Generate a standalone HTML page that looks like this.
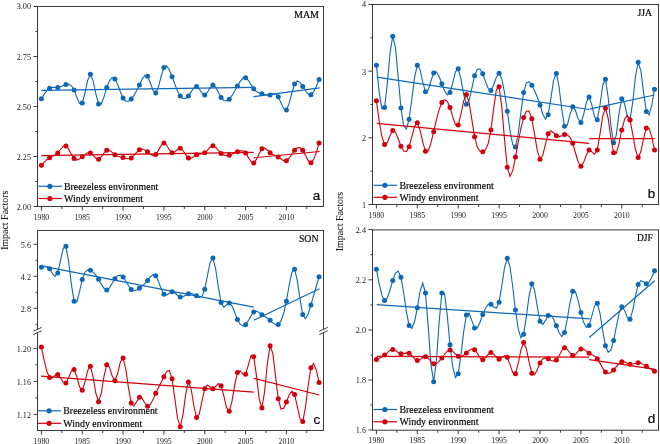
<!DOCTYPE html>
<html><head><meta charset="utf-8"><title>Impact Factors</title>
<style>html,body{margin:0;padding:0;background:#fff;}svg{display:block;will-change:transform;}</style>
</head><body><svg width="660" height="444" viewBox="0 0 660 444"><rect x="37.5" y="6.5" width="286.0" height="200.0" fill="none" stroke="#3a3a3a" stroke-width="1"/><line x1="33.5" y1="6.5" x2="37.5" y2="6.5" stroke="#3a3a3a" stroke-width="1"/><text x="31.0" y="8.9" font-family="'Liberation Serif', serif" font-size="8.2" text-anchor="end" fill="#1a1a1a">3.00</text><line x1="33.5" y1="56.5" x2="37.5" y2="56.5" stroke="#3a3a3a" stroke-width="1"/><text x="31.0" y="59.9" font-family="'Liberation Serif', serif" font-size="8.2" text-anchor="end" fill="#1a1a1a">2.75</text><line x1="33.5" y1="106.5" x2="37.5" y2="106.5" stroke="#3a3a3a" stroke-width="1"/><text x="31.0" y="109.9" font-family="'Liberation Serif', serif" font-size="8.2" text-anchor="end" fill="#1a1a1a">2.50</text><line x1="33.5" y1="156.5" x2="37.5" y2="156.5" stroke="#3a3a3a" stroke-width="1"/><text x="31.0" y="159.9" font-family="'Liberation Serif', serif" font-size="8.2" text-anchor="end" fill="#1a1a1a">2.25</text><line x1="33.5" y1="206.5" x2="37.5" y2="206.5" stroke="#3a3a3a" stroke-width="1"/><text x="31.0" y="209.9" font-family="'Liberation Serif', serif" font-size="8.2" text-anchor="end" fill="#1a1a1a">2.00</text><line x1="35.5" y1="31.5" x2="37.5" y2="31.5" stroke="#3a3a3a" stroke-width="1"/><line x1="35.5" y1="81.5" x2="37.5" y2="81.5" stroke="#3a3a3a" stroke-width="1"/><line x1="35.5" y1="131.5" x2="37.5" y2="131.5" stroke="#3a3a3a" stroke-width="1"/><line x1="35.5" y1="181.5" x2="37.5" y2="181.5" stroke="#3a3a3a" stroke-width="1"/><line x1="41.4" y1="206.5" x2="41.4" y2="210.5" stroke="#3a3a3a" stroke-width="1"/><text x="41.4" y="219.5" font-family="'Liberation Serif', serif" font-size="8.2" text-anchor="middle" fill="#1a1a1a" textLength="15.6" lengthAdjust="spacingAndGlyphs">1980</text><line x1="82.235" y1="206.5" x2="82.235" y2="210.5" stroke="#3a3a3a" stroke-width="1"/><text x="82.235" y="219.5" font-family="'Liberation Serif', serif" font-size="8.2" text-anchor="middle" fill="#1a1a1a" textLength="15.6" lengthAdjust="spacingAndGlyphs">1985</text><line x1="123.07" y1="206.5" x2="123.07" y2="210.5" stroke="#3a3a3a" stroke-width="1"/><text x="123.07" y="219.5" font-family="'Liberation Serif', serif" font-size="8.2" text-anchor="middle" fill="#1a1a1a" textLength="15.6" lengthAdjust="spacingAndGlyphs">1990</text><line x1="163.905" y1="206.5" x2="163.905" y2="210.5" stroke="#3a3a3a" stroke-width="1"/><text x="163.905" y="219.5" font-family="'Liberation Serif', serif" font-size="8.2" text-anchor="middle" fill="#1a1a1a" textLength="15.6" lengthAdjust="spacingAndGlyphs">1995</text><line x1="204.74" y1="206.5" x2="204.74" y2="210.5" stroke="#3a3a3a" stroke-width="1"/><text x="204.74" y="219.5" font-family="'Liberation Serif', serif" font-size="8.2" text-anchor="middle" fill="#1a1a1a" textLength="15.6" lengthAdjust="spacingAndGlyphs">2000</text><line x1="245.575" y1="206.5" x2="245.575" y2="210.5" stroke="#3a3a3a" stroke-width="1"/><text x="245.575" y="219.5" font-family="'Liberation Serif', serif" font-size="8.2" text-anchor="middle" fill="#1a1a1a" textLength="15.6" lengthAdjust="spacingAndGlyphs">2005</text><line x1="286.40999999999997" y1="206.5" x2="286.40999999999997" y2="210.5" stroke="#3a3a3a" stroke-width="1"/><text x="286.40999999999997" y="219.5" font-family="'Liberation Serif', serif" font-size="8.2" text-anchor="middle" fill="#1a1a1a" textLength="15.6" lengthAdjust="spacingAndGlyphs">2010</text><line x1="61.817499999999995" y1="206.5" x2="61.817499999999995" y2="209.0" stroke="#3a3a3a" stroke-width="1"/><line x1="102.6525" y1="206.5" x2="102.6525" y2="209.0" stroke="#3a3a3a" stroke-width="1"/><line x1="143.48749999999998" y1="206.5" x2="143.48749999999998" y2="209.0" stroke="#3a3a3a" stroke-width="1"/><line x1="184.3225" y1="206.5" x2="184.3225" y2="209.0" stroke="#3a3a3a" stroke-width="1"/><line x1="225.1575" y1="206.5" x2="225.1575" y2="209.0" stroke="#3a3a3a" stroke-width="1"/><line x1="265.9925" y1="206.5" x2="265.9925" y2="209.0" stroke="#3a3a3a" stroke-width="1"/><line x1="306.8275" y1="206.5" x2="306.8275" y2="209.0" stroke="#3a3a3a" stroke-width="1"/><path d="M41.40,98.80 44.12,94.42 46.84,90.68 49.57,88.20 52.29,87.35 55.01,87.44 57.73,87.50 60.46,86.82 63.18,85.68 65.90,84.60 68.62,84.20 71.35,85.57 74.07,89.90 76.79,97.29 79.51,103.45 82.23,103.00 84.96,93.01 87.68,80.32 90.40,74.20 93.12,80.81 95.85,93.86 98.57,103.90 101.29,103.96 104.01,96.80 106.74,87.60 109.46,80.79 112.18,77.71 114.90,78.90 117.63,84.35 120.35,91.73 123.07,98.10 125.79,101.18 128.51,101.20 131.24,99.00 133.96,95.34 136.68,90.58 139.40,85.00 142.13,79.25 144.85,75.50 147.57,76.30 150.29,82.77 153.02,90.33 155.74,93.00 158.46,86.85 161.18,76.24 163.91,67.60 166.63,65.85 169.35,69.79 172.07,76.70 174.79,84.16 177.52,90.89 180.24,95.90 182.96,98.39 185.68,98.36 188.41,96.00 191.13,91.87 193.85,87.95 196.57,86.60 199.30,89.17 202.02,93.12 204.74,94.90 207.46,92.21 210.18,87.67 212.91,85.10 215.63,87.23 218.35,92.32 221.07,97.50 223.80,100.44 226.52,100.91 229.24,99.20 231.96,95.68 234.69,91.03 237.41,86.00 240.13,81.40 242.85,78.27 245.57,77.70 248.30,80.28 251.02,84.62 253.74,88.85 256.46,91.52 259.19,92.91 261.91,93.75 264.63,94.56 267.35,95.12 270.08,95.00 272.80,94.16 275.52,94.10 278.24,96.70 280.97,102.75 283.69,108.69 286.41,109.90 289.13,103.41 291.85,93.00 294.58,84.10 297.30,80.89 300.02,82.40 302.74,86.40 305.47,90.79 308.19,94.02 310.91,94.70 313.63,91.87 316.36,86.39 319.08,79.60" fill="none" stroke="#0f68b4" stroke-width="1.1"/><circle cx="41.40" cy="98.80" r="2.5" fill="#0f68b4"/><circle cx="49.57" cy="88.20" r="2.5" fill="#0f68b4"/><circle cx="57.73" cy="87.50" r="2.5" fill="#0f68b4"/><circle cx="65.90" cy="84.60" r="2.5" fill="#0f68b4"/><circle cx="74.07" cy="89.90" r="2.5" fill="#0f68b4"/><circle cx="82.23" cy="103.00" r="2.5" fill="#0f68b4"/><circle cx="90.40" cy="74.20" r="2.5" fill="#0f68b4"/><circle cx="98.57" cy="103.90" r="2.5" fill="#0f68b4"/><circle cx="106.74" cy="87.60" r="2.5" fill="#0f68b4"/><circle cx="114.90" cy="78.90" r="2.5" fill="#0f68b4"/><circle cx="123.07" cy="98.10" r="2.5" fill="#0f68b4"/><circle cx="131.24" cy="99.00" r="2.5" fill="#0f68b4"/><circle cx="139.40" cy="85.00" r="2.5" fill="#0f68b4"/><circle cx="147.57" cy="76.30" r="2.5" fill="#0f68b4"/><circle cx="155.74" cy="93.00" r="2.5" fill="#0f68b4"/><circle cx="163.91" cy="67.60" r="2.5" fill="#0f68b4"/><circle cx="172.07" cy="76.70" r="2.5" fill="#0f68b4"/><circle cx="180.24" cy="95.90" r="2.5" fill="#0f68b4"/><circle cx="188.41" cy="96.00" r="2.5" fill="#0f68b4"/><circle cx="196.57" cy="86.60" r="2.5" fill="#0f68b4"/><circle cx="204.74" cy="94.90" r="2.5" fill="#0f68b4"/><circle cx="212.91" cy="85.10" r="2.5" fill="#0f68b4"/><circle cx="221.07" cy="97.50" r="2.5" fill="#0f68b4"/><circle cx="229.24" cy="99.20" r="2.5" fill="#0f68b4"/><circle cx="237.41" cy="86.00" r="2.5" fill="#0f68b4"/><circle cx="245.57" cy="77.70" r="2.5" fill="#0f68b4"/><circle cx="253.74" cy="88.85" r="2.5" fill="#0f68b4"/><circle cx="261.91" cy="93.75" r="2.5" fill="#0f68b4"/><circle cx="270.08" cy="95.00" r="2.5" fill="#0f68b4"/><circle cx="278.24" cy="96.70" r="2.5" fill="#0f68b4"/><circle cx="286.41" cy="109.90" r="2.5" fill="#0f68b4"/><circle cx="294.58" cy="84.10" r="2.5" fill="#0f68b4"/><circle cx="302.74" cy="86.40" r="2.5" fill="#0f68b4"/><circle cx="310.91" cy="94.70" r="2.5" fill="#0f68b4"/><circle cx="319.08" cy="79.60" r="2.5" fill="#0f68b4"/><path d="M41.40,165.30 44.12,162.37 46.84,159.73 49.57,157.70 52.29,156.37 55.01,155.07 57.73,152.90 60.46,149.49 63.18,146.45 65.90,145.90 68.62,149.14 71.35,154.28 74.07,158.60 76.79,160.03 79.51,159.06 82.23,156.80 84.96,154.36 87.68,152.73 90.40,152.90 93.12,155.30 95.85,158.17 98.57,159.20 101.29,156.89 104.01,153.03 106.74,150.20 109.46,150.30 112.18,152.38 114.90,154.80 117.63,156.28 120.35,157.02 123.07,157.60 125.79,158.36 128.51,158.73 131.24,157.90 133.96,155.42 136.68,152.27 139.40,149.80 142.13,149.06 144.85,149.88 147.57,151.80 150.29,154.17 153.02,155.62 155.74,154.60 158.46,150.38 161.18,145.42 163.91,143.00 166.63,145.25 169.35,149.72 172.07,152.80 174.79,152.02 177.52,149.42 180.24,148.20 182.96,150.54 185.68,154.69 188.41,157.90 191.13,158.19 193.85,156.57 196.57,154.80 199.30,154.16 202.02,153.90 204.74,152.80 207.46,150.12 210.18,147.18 212.91,145.80 215.63,147.21 218.35,150.30 221.07,153.40 223.80,155.15 226.52,155.62 229.24,155.20 231.96,154.27 234.69,153.06 237.41,151.80 240.13,150.81 242.85,150.91 245.57,153.00 248.30,157.37 251.02,161.69 253.74,163.00 256.46,159.43 259.19,153.49 261.91,148.80 264.63,148.03 267.35,150.03 270.08,152.70 272.80,154.42 275.52,155.55 278.24,156.90 280.97,158.95 283.69,160.67 286.41,160.70 289.13,158.15 291.85,154.11 294.58,150.20 297.30,147.83 300.02,147.66 302.74,150.20 305.47,155.33 308.19,160.53 310.91,162.70 313.63,159.58 316.36,152.37 319.08,143.10" fill="none" stroke="#d2000c" stroke-width="1.1"/><circle cx="41.40" cy="165.30" r="2.5" fill="#d2000c"/><circle cx="49.57" cy="157.70" r="2.5" fill="#d2000c"/><circle cx="57.73" cy="152.90" r="2.5" fill="#d2000c"/><circle cx="65.90" cy="145.90" r="2.5" fill="#d2000c"/><circle cx="74.07" cy="158.60" r="2.5" fill="#d2000c"/><circle cx="82.23" cy="156.80" r="2.5" fill="#d2000c"/><circle cx="90.40" cy="152.90" r="2.5" fill="#d2000c"/><circle cx="98.57" cy="159.20" r="2.5" fill="#d2000c"/><circle cx="106.74" cy="150.20" r="2.5" fill="#d2000c"/><circle cx="114.90" cy="154.80" r="2.5" fill="#d2000c"/><circle cx="123.07" cy="157.60" r="2.5" fill="#d2000c"/><circle cx="131.24" cy="157.90" r="2.5" fill="#d2000c"/><circle cx="139.40" cy="149.80" r="2.5" fill="#d2000c"/><circle cx="147.57" cy="151.80" r="2.5" fill="#d2000c"/><circle cx="155.74" cy="154.60" r="2.5" fill="#d2000c"/><circle cx="163.91" cy="143.00" r="2.5" fill="#d2000c"/><circle cx="172.07" cy="152.80" r="2.5" fill="#d2000c"/><circle cx="180.24" cy="148.20" r="2.5" fill="#d2000c"/><circle cx="188.41" cy="157.90" r="2.5" fill="#d2000c"/><circle cx="196.57" cy="154.80" r="2.5" fill="#d2000c"/><circle cx="204.74" cy="152.80" r="2.5" fill="#d2000c"/><circle cx="212.91" cy="145.80" r="2.5" fill="#d2000c"/><circle cx="221.07" cy="153.40" r="2.5" fill="#d2000c"/><circle cx="229.24" cy="155.20" r="2.5" fill="#d2000c"/><circle cx="237.41" cy="151.80" r="2.5" fill="#d2000c"/><circle cx="245.57" cy="153.00" r="2.5" fill="#d2000c"/><circle cx="253.74" cy="163.00" r="2.5" fill="#d2000c"/><circle cx="261.91" cy="148.80" r="2.5" fill="#d2000c"/><circle cx="270.08" cy="152.70" r="2.5" fill="#d2000c"/><circle cx="278.24" cy="156.90" r="2.5" fill="#d2000c"/><circle cx="286.41" cy="160.70" r="2.5" fill="#d2000c"/><circle cx="294.58" cy="150.20" r="2.5" fill="#d2000c"/><circle cx="302.74" cy="150.20" r="2.5" fill="#d2000c"/><circle cx="310.91" cy="162.70" r="2.5" fill="#d2000c"/><circle cx="319.08" cy="143.10" r="2.5" fill="#d2000c"/><line x1="41.4" y1="90.3" x2="253.7" y2="87.4" stroke="#0f68b4" stroke-width="1.2"/><line x1="253.5" y1="96.7" x2="319.6" y2="87.9" stroke="#0f68b4" stroke-width="1.2"/><line x1="41.4" y1="155.6" x2="253.7" y2="152.4" stroke="#d2000c" stroke-width="1.2"/><line x1="253.7" y1="157.8" x2="319.7" y2="151.5" stroke="#d2000c" stroke-width="1.2"/><line x1="38.5" y1="186.3" x2="62.0" y2="186.3" stroke="#0f68b4" stroke-width="1.2"/><circle cx="49.9" cy="186.3" r="2.6" fill="#0f68b4"/><line x1="38.5" y1="198.5" x2="62.0" y2="198.5" stroke="#d2000c" stroke-width="1.2"/><circle cx="49.9" cy="198.5" r="2.6" fill="#d2000c"/><text x="64" y="189.9" font-family="'Liberation Serif', serif" font-size="10" text-anchor="start" fill="#000" stroke="#000" stroke-width="0.18" textLength="94.3" lengthAdjust="spacingAndGlyphs">Breezeless environment</text><text x="64" y="202.1" font-family="'Liberation Serif', serif" font-size="10" text-anchor="start" fill="#000" stroke="#000" stroke-width="0.18" textLength="79" lengthAdjust="spacingAndGlyphs">Windy environment</text><text x="319" y="17.5" font-family="'Liberation Serif', serif" font-size="10" text-anchor="end" fill="#000" stroke="#000" stroke-width="0.18" textLength="25" lengthAdjust="spacingAndGlyphs">MAM</text><text x="316.5" y="200" font-family="'Liberation Sans', sans-serif" font-size="13.5" text-anchor="middle" fill="#000" stroke="#000" stroke-width="0.18">a</text><rect x="372.5" y="4.5" width="286.0" height="200.0" fill="none" stroke="#3a3a3a" stroke-width="1"/><line x1="368.5" y1="4.5" x2="372.5" y2="4.5" stroke="#3a3a3a" stroke-width="1"/><text x="366" y="6.9" font-family="'Liberation Serif', serif" font-size="8.2" text-anchor="end" fill="#1a1a1a">4</text><line x1="368.5" y1="71.2" x2="372.5" y2="71.2" stroke="#3a3a3a" stroke-width="1"/><text x="366" y="74.60000000000001" font-family="'Liberation Serif', serif" font-size="8.2" text-anchor="end" fill="#1a1a1a">3</text><line x1="368.5" y1="137.8" x2="372.5" y2="137.8" stroke="#3a3a3a" stroke-width="1"/><text x="366" y="141.20000000000002" font-family="'Liberation Serif', serif" font-size="8.2" text-anchor="end" fill="#1a1a1a">2</text><line x1="368.5" y1="204.5" x2="372.5" y2="204.5" stroke="#3a3a3a" stroke-width="1"/><text x="366" y="207.9" font-family="'Liberation Serif', serif" font-size="8.2" text-anchor="end" fill="#1a1a1a">1</text><line x1="370.5" y1="37.8" x2="372.5" y2="37.8" stroke="#3a3a3a" stroke-width="1"/><line x1="370.5" y1="104.5" x2="372.5" y2="104.5" stroke="#3a3a3a" stroke-width="1"/><line x1="370.5" y1="171.2" x2="372.5" y2="171.2" stroke="#3a3a3a" stroke-width="1"/><line x1="376.4" y1="204.5" x2="376.4" y2="208.5" stroke="#3a3a3a" stroke-width="1"/><text x="376.4" y="217.5" font-family="'Liberation Serif', serif" font-size="8.2" text-anchor="middle" fill="#1a1a1a" textLength="15.6" lengthAdjust="spacingAndGlyphs">1980</text><line x1="417.29999999999995" y1="204.5" x2="417.29999999999995" y2="208.5" stroke="#3a3a3a" stroke-width="1"/><text x="417.29999999999995" y="217.5" font-family="'Liberation Serif', serif" font-size="8.2" text-anchor="middle" fill="#1a1a1a" textLength="15.6" lengthAdjust="spacingAndGlyphs">1985</text><line x1="458.2" y1="204.5" x2="458.2" y2="208.5" stroke="#3a3a3a" stroke-width="1"/><text x="458.2" y="217.5" font-family="'Liberation Serif', serif" font-size="8.2" text-anchor="middle" fill="#1a1a1a" textLength="15.6" lengthAdjust="spacingAndGlyphs">1990</text><line x1="499.09999999999997" y1="204.5" x2="499.09999999999997" y2="208.5" stroke="#3a3a3a" stroke-width="1"/><text x="499.09999999999997" y="217.5" font-family="'Liberation Serif', serif" font-size="8.2" text-anchor="middle" fill="#1a1a1a" textLength="15.6" lengthAdjust="spacingAndGlyphs">1995</text><line x1="540.0" y1="204.5" x2="540.0" y2="208.5" stroke="#3a3a3a" stroke-width="1"/><text x="540.0" y="217.5" font-family="'Liberation Serif', serif" font-size="8.2" text-anchor="middle" fill="#1a1a1a" textLength="15.6" lengthAdjust="spacingAndGlyphs">2000</text><line x1="580.9" y1="204.5" x2="580.9" y2="208.5" stroke="#3a3a3a" stroke-width="1"/><text x="580.9" y="217.5" font-family="'Liberation Serif', serif" font-size="8.2" text-anchor="middle" fill="#1a1a1a" textLength="15.6" lengthAdjust="spacingAndGlyphs">2005</text><line x1="621.8" y1="204.5" x2="621.8" y2="208.5" stroke="#3a3a3a" stroke-width="1"/><text x="621.8" y="217.5" font-family="'Liberation Serif', serif" font-size="8.2" text-anchor="middle" fill="#1a1a1a" textLength="15.6" lengthAdjust="spacingAndGlyphs">2010</text><line x1="396.84999999999997" y1="204.5" x2="396.84999999999997" y2="207.0" stroke="#3a3a3a" stroke-width="1"/><line x1="437.75" y1="204.5" x2="437.75" y2="207.0" stroke="#3a3a3a" stroke-width="1"/><line x1="478.65" y1="204.5" x2="478.65" y2="207.0" stroke="#3a3a3a" stroke-width="1"/><line x1="519.55" y1="204.5" x2="519.55" y2="207.0" stroke="#3a3a3a" stroke-width="1"/><line x1="560.4499999999999" y1="204.5" x2="560.4499999999999" y2="207.0" stroke="#3a3a3a" stroke-width="1"/><line x1="601.3499999999999" y1="204.5" x2="601.3499999999999" y2="207.0" stroke="#3a3a3a" stroke-width="1"/><line x1="642.25" y1="204.5" x2="642.25" y2="207.0" stroke="#3a3a3a" stroke-width="1"/><path d="M376.40,65.30 379.13,91.63 381.85,108.76 384.58,107.50 387.31,83.64 390.03,52.95 392.76,36.20 395.49,47.88 398.21,77.42 400.94,108.00 403.67,125.80 406.39,129.10 409.12,119.20 411.85,98.95 414.57,77.43 417.30,65.30 420.03,69.50 422.75,82.15 425.48,91.70 428.21,89.79 430.93,80.97 433.66,73.00 436.39,71.87 439.11,76.45 441.84,83.80 444.57,90.98 447.29,94.92 450.02,92.50 452.75,82.58 455.47,71.81 458.20,68.80 460.93,78.90 463.65,94.37 466.38,104.20 469.11,100.58 471.83,88.41 474.56,75.80 477.29,69.26 480.01,69.01 482.74,73.70 485.47,81.47 488.19,88.50 490.92,90.50 493.65,85.00 496.37,76.99 499.10,73.30 501.83,79.08 504.55,92.79 507.28,111.20 510.01,130.53 512.73,144.68 515.46,147.00 518.19,133.65 520.91,112.07 523.64,92.50 526.37,82.86 529.09,81.72 531.82,85.30 534.55,90.50 537.27,96.96 540.00,105.00 542.73,113.93 545.45,119.07 548.18,114.70 550.91,98.32 553.63,80.12 556.36,73.50 559.09,86.99 561.81,109.78 564.54,126.20 567.27,125.26 569.99,114.66 572.72,106.80 575.45,110.31 578.17,118.89 580.90,122.50 583.63,114.58 586.35,102.48 589.08,97.00 591.81,104.94 594.53,116.96 597.26,119.70 599.99,104.99 602.71,85.52 605.44,79.20 608.17,97.42 610.89,125.64 613.62,142.80 616.35,134.57 619.07,113.46 621.80,98.70 624.53,103.41 627.25,116.23 629.98,119.70 632.71,102.39 635.43,76.98 638.16,62.20 640.89,70.94 643.61,92.81 646.34,111.60 649.07,114.86 651.79,105.25 654.52,89.20" fill="none" stroke="#0f68b4" stroke-width="1.1"/><circle cx="376.40" cy="65.30" r="2.5" fill="#0f68b4"/><circle cx="384.58" cy="107.50" r="2.5" fill="#0f68b4"/><circle cx="392.76" cy="36.20" r="2.5" fill="#0f68b4"/><circle cx="400.94" cy="108.00" r="2.5" fill="#0f68b4"/><circle cx="409.12" cy="119.20" r="2.5" fill="#0f68b4"/><circle cx="417.30" cy="65.30" r="2.5" fill="#0f68b4"/><circle cx="425.48" cy="91.70" r="2.5" fill="#0f68b4"/><circle cx="433.66" cy="73.00" r="2.5" fill="#0f68b4"/><circle cx="441.84" cy="83.80" r="2.5" fill="#0f68b4"/><circle cx="450.02" cy="92.50" r="2.5" fill="#0f68b4"/><circle cx="458.20" cy="68.80" r="2.5" fill="#0f68b4"/><circle cx="466.38" cy="104.20" r="2.5" fill="#0f68b4"/><circle cx="474.56" cy="75.80" r="2.5" fill="#0f68b4"/><circle cx="482.74" cy="73.70" r="2.5" fill="#0f68b4"/><circle cx="490.92" cy="90.50" r="2.5" fill="#0f68b4"/><circle cx="499.10" cy="73.30" r="2.5" fill="#0f68b4"/><circle cx="507.28" cy="111.20" r="2.5" fill="#0f68b4"/><circle cx="515.46" cy="147.00" r="2.5" fill="#0f68b4"/><circle cx="523.64" cy="92.50" r="2.5" fill="#0f68b4"/><circle cx="531.82" cy="85.30" r="2.5" fill="#0f68b4"/><circle cx="540.00" cy="105.00" r="2.5" fill="#0f68b4"/><circle cx="548.18" cy="114.70" r="2.5" fill="#0f68b4"/><circle cx="556.36" cy="73.50" r="2.5" fill="#0f68b4"/><circle cx="564.54" cy="126.20" r="2.5" fill="#0f68b4"/><circle cx="572.72" cy="106.80" r="2.5" fill="#0f68b4"/><circle cx="580.90" cy="122.50" r="2.5" fill="#0f68b4"/><circle cx="589.08" cy="97.00" r="2.5" fill="#0f68b4"/><circle cx="597.26" cy="119.70" r="2.5" fill="#0f68b4"/><circle cx="605.44" cy="79.20" r="2.5" fill="#0f68b4"/><circle cx="613.62" cy="142.80" r="2.5" fill="#0f68b4"/><circle cx="621.80" cy="98.70" r="2.5" fill="#0f68b4"/><circle cx="629.98" cy="119.70" r="2.5" fill="#0f68b4"/><circle cx="638.16" cy="62.20" r="2.5" fill="#0f68b4"/><circle cx="646.34" cy="111.60" r="2.5" fill="#0f68b4"/><circle cx="654.52" cy="89.20" r="2.5" fill="#0f68b4"/><path d="M376.40,100.80 379.13,120.60 381.85,136.48 384.58,144.50 387.31,142.53 390.03,135.59 392.76,130.50 395.49,132.28 398.21,138.81 400.94,146.20 403.67,150.99 406.39,151.56 409.12,146.70 411.85,136.54 414.57,126.37 417.30,122.80 420.03,129.96 422.75,142.15 425.48,151.20 428.21,150.95 430.93,143.19 433.66,131.70 436.39,119.89 439.11,109.65 441.84,102.50 444.57,99.69 447.29,101.39 450.02,107.50 452.75,116.94 455.47,124.75 458.20,125.00 460.93,114.49 463.65,100.86 466.38,94.50 469.11,102.59 471.83,119.57 474.56,136.70 477.29,147.08 480.01,151.27 482.74,151.70 485.47,149.87 488.19,143.64 490.92,130.00 493.65,108.58 496.37,89.79 499.10,86.70 501.83,107.39 504.55,139.88 507.28,167.20 510.01,176.38 512.73,170.61 515.46,157.10 518.19,142.14 520.91,128.37 523.64,117.50 526.37,111.23 529.09,111.15 531.82,118.80 534.55,134.09 537.27,150.36 540.00,159.30 542.73,155.36 545.45,144.09 548.18,133.80 550.91,130.72 553.63,132.77 556.36,135.80 559.09,136.59 561.81,135.70 564.54,134.60 567.27,134.73 569.99,137.23 572.72,143.20 575.45,152.74 578.17,162.01 580.90,166.20 583.63,162.34 586.35,154.86 589.08,150.00 591.81,151.67 594.53,154.32 597.26,150.00 599.99,134.20 602.71,116.03 605.44,108.00 608.17,118.29 610.89,137.73 613.62,152.80 616.35,153.45 619.07,143.44 621.80,130.00 624.53,119.55 627.25,115.39 629.98,120.00 632.71,133.88 635.43,149.55 638.16,157.50 640.89,151.50 643.61,138.32 646.34,128.00 649.07,128.18 651.79,136.94 654.52,150.00" fill="none" stroke="#d2000c" stroke-width="1.1"/><circle cx="376.40" cy="100.80" r="2.5" fill="#d2000c"/><circle cx="384.58" cy="144.50" r="2.5" fill="#d2000c"/><circle cx="392.76" cy="130.50" r="2.5" fill="#d2000c"/><circle cx="400.94" cy="146.20" r="2.5" fill="#d2000c"/><circle cx="409.12" cy="146.70" r="2.5" fill="#d2000c"/><circle cx="417.30" cy="122.80" r="2.5" fill="#d2000c"/><circle cx="425.48" cy="151.20" r="2.5" fill="#d2000c"/><circle cx="433.66" cy="131.70" r="2.5" fill="#d2000c"/><circle cx="441.84" cy="102.50" r="2.5" fill="#d2000c"/><circle cx="450.02" cy="107.50" r="2.5" fill="#d2000c"/><circle cx="458.20" cy="125.00" r="2.5" fill="#d2000c"/><circle cx="466.38" cy="94.50" r="2.5" fill="#d2000c"/><circle cx="474.56" cy="136.70" r="2.5" fill="#d2000c"/><circle cx="482.74" cy="151.70" r="2.5" fill="#d2000c"/><circle cx="490.92" cy="130.00" r="2.5" fill="#d2000c"/><circle cx="499.10" cy="86.70" r="2.5" fill="#d2000c"/><circle cx="507.28" cy="167.20" r="2.5" fill="#d2000c"/><circle cx="515.46" cy="157.10" r="2.5" fill="#d2000c"/><circle cx="523.64" cy="117.50" r="2.5" fill="#d2000c"/><circle cx="531.82" cy="118.80" r="2.5" fill="#d2000c"/><circle cx="540.00" cy="159.30" r="2.5" fill="#d2000c"/><circle cx="548.18" cy="133.80" r="2.5" fill="#d2000c"/><circle cx="556.36" cy="135.80" r="2.5" fill="#d2000c"/><circle cx="564.54" cy="134.60" r="2.5" fill="#d2000c"/><circle cx="572.72" cy="143.20" r="2.5" fill="#d2000c"/><circle cx="580.90" cy="166.20" r="2.5" fill="#d2000c"/><circle cx="589.08" cy="150.00" r="2.5" fill="#d2000c"/><circle cx="597.26" cy="150.00" r="2.5" fill="#d2000c"/><circle cx="605.44" cy="108.00" r="2.5" fill="#d2000c"/><circle cx="613.62" cy="152.80" r="2.5" fill="#d2000c"/><circle cx="621.80" cy="130.00" r="2.5" fill="#d2000c"/><circle cx="629.98" cy="120.00" r="2.5" fill="#d2000c"/><circle cx="638.16" cy="157.50" r="2.5" fill="#d2000c"/><circle cx="646.34" cy="128.00" r="2.5" fill="#d2000c"/><circle cx="654.52" cy="150.00" r="2.5" fill="#d2000c"/><line x1="376.7" y1="77.2" x2="589" y2="109.5" stroke="#0f68b4" stroke-width="1.2"/><line x1="589.5" y1="109.2" x2="654.5" y2="95" stroke="#0f68b4" stroke-width="1.2"/><line x1="376.7" y1="123.3" x2="589.2" y2="143.3" stroke="#d2000c" stroke-width="1.2"/><line x1="589.2" y1="138.7" x2="654.7" y2="138.7" stroke="#d2000c" stroke-width="1.2"/><line x1="373.5" y1="185.3" x2="397.0" y2="185.3" stroke="#0f68b4" stroke-width="1.2"/><circle cx="384.9" cy="185.3" r="2.6" fill="#0f68b4"/><line x1="373.5" y1="197.3" x2="397.0" y2="197.3" stroke="#d2000c" stroke-width="1.2"/><circle cx="384.9" cy="197.3" r="2.6" fill="#d2000c"/><text x="399.5" y="188.9" font-family="'Liberation Serif', serif" font-size="10" text-anchor="start" fill="#000" stroke="#000" stroke-width="0.18" textLength="94.3" lengthAdjust="spacingAndGlyphs">Breezeless environment</text><text x="399.5" y="200.9" font-family="'Liberation Serif', serif" font-size="10" text-anchor="start" fill="#000" stroke="#000" stroke-width="0.18" textLength="79" lengthAdjust="spacingAndGlyphs">Windy environment</text><text x="652" y="15.5" font-family="'Liberation Serif', serif" font-size="10" text-anchor="end" fill="#000" stroke="#000" stroke-width="0.18" textLength="14.5" lengthAdjust="spacingAndGlyphs">JJA</text><text x="651.5" y="197.7" font-family="'Liberation Sans', sans-serif" font-size="13.3" text-anchor="middle" fill="#000" stroke="#000" stroke-width="0.18">b</text><rect x="37.5" y="230.5" width="286.0" height="200.0" fill="none" stroke="#3a3a3a" stroke-width="1"/><line x1="33.5" y1="244.3" x2="37.5" y2="244.3" stroke="#3a3a3a" stroke-width="1"/><text x="31.0" y="247.70000000000002" font-family="'Liberation Serif', serif" font-size="8.2" text-anchor="end" fill="#1a1a1a">5.6</text><line x1="33.5" y1="276.3" x2="37.5" y2="276.3" stroke="#3a3a3a" stroke-width="1"/><text x="31.0" y="279.7" font-family="'Liberation Serif', serif" font-size="8.2" text-anchor="end" fill="#1a1a1a">4.2</text><line x1="33.5" y1="308.3" x2="37.5" y2="308.3" stroke="#3a3a3a" stroke-width="1"/><text x="31.0" y="311.7" font-family="'Liberation Serif', serif" font-size="8.2" text-anchor="end" fill="#1a1a1a">2.8</text><line x1="33.5" y1="348.4" x2="37.5" y2="348.4" stroke="#3a3a3a" stroke-width="1"/><text x="31.0" y="351.79999999999995" font-family="'Liberation Serif', serif" font-size="8.2" text-anchor="end" fill="#1a1a1a">1.20</text><line x1="33.5" y1="381.4" x2="37.5" y2="381.4" stroke="#3a3a3a" stroke-width="1"/><text x="31.0" y="384.79999999999995" font-family="'Liberation Serif', serif" font-size="8.2" text-anchor="end" fill="#1a1a1a">1.16</text><line x1="33.5" y1="414.4" x2="37.5" y2="414.4" stroke="#3a3a3a" stroke-width="1"/><text x="31.0" y="417.79999999999995" font-family="'Liberation Serif', serif" font-size="8.2" text-anchor="end" fill="#1a1a1a">1.12</text><line x1="35.5" y1="260.3" x2="37.5" y2="260.3" stroke="#3a3a3a" stroke-width="1"/><line x1="35.5" y1="292.3" x2="37.5" y2="292.3" stroke="#3a3a3a" stroke-width="1"/><line x1="35.5" y1="324.3" x2="37.5" y2="324.3" stroke="#3a3a3a" stroke-width="1"/><line x1="35.5" y1="364.9" x2="37.5" y2="364.9" stroke="#3a3a3a" stroke-width="1"/><line x1="35.5" y1="397.9" x2="37.5" y2="397.9" stroke="#3a3a3a" stroke-width="1"/><line x1="41.4" y1="430.5" x2="41.4" y2="434.5" stroke="#3a3a3a" stroke-width="1"/><text x="41.4" y="443.5" font-family="'Liberation Serif', serif" font-size="8.2" text-anchor="middle" fill="#1a1a1a" textLength="15.6" lengthAdjust="spacingAndGlyphs">1980</text><line x1="82.235" y1="430.5" x2="82.235" y2="434.5" stroke="#3a3a3a" stroke-width="1"/><text x="82.235" y="443.5" font-family="'Liberation Serif', serif" font-size="8.2" text-anchor="middle" fill="#1a1a1a" textLength="15.6" lengthAdjust="spacingAndGlyphs">1985</text><line x1="123.07" y1="430.5" x2="123.07" y2="434.5" stroke="#3a3a3a" stroke-width="1"/><text x="123.07" y="443.5" font-family="'Liberation Serif', serif" font-size="8.2" text-anchor="middle" fill="#1a1a1a" textLength="15.6" lengthAdjust="spacingAndGlyphs">1990</text><line x1="163.905" y1="430.5" x2="163.905" y2="434.5" stroke="#3a3a3a" stroke-width="1"/><text x="163.905" y="443.5" font-family="'Liberation Serif', serif" font-size="8.2" text-anchor="middle" fill="#1a1a1a" textLength="15.6" lengthAdjust="spacingAndGlyphs">1995</text><line x1="204.74" y1="430.5" x2="204.74" y2="434.5" stroke="#3a3a3a" stroke-width="1"/><text x="204.74" y="443.5" font-family="'Liberation Serif', serif" font-size="8.2" text-anchor="middle" fill="#1a1a1a" textLength="15.6" lengthAdjust="spacingAndGlyphs">2000</text><line x1="245.575" y1="430.5" x2="245.575" y2="434.5" stroke="#3a3a3a" stroke-width="1"/><text x="245.575" y="443.5" font-family="'Liberation Serif', serif" font-size="8.2" text-anchor="middle" fill="#1a1a1a" textLength="15.6" lengthAdjust="spacingAndGlyphs">2005</text><line x1="286.40999999999997" y1="430.5" x2="286.40999999999997" y2="434.5" stroke="#3a3a3a" stroke-width="1"/><text x="286.40999999999997" y="443.5" font-family="'Liberation Serif', serif" font-size="8.2" text-anchor="middle" fill="#1a1a1a" textLength="15.6" lengthAdjust="spacingAndGlyphs">2010</text><line x1="61.817499999999995" y1="430.5" x2="61.817499999999995" y2="433.0" stroke="#3a3a3a" stroke-width="1"/><line x1="102.6525" y1="430.5" x2="102.6525" y2="433.0" stroke="#3a3a3a" stroke-width="1"/><line x1="143.48749999999998" y1="430.5" x2="143.48749999999998" y2="433.0" stroke="#3a3a3a" stroke-width="1"/><line x1="184.3225" y1="430.5" x2="184.3225" y2="433.0" stroke="#3a3a3a" stroke-width="1"/><line x1="225.1575" y1="430.5" x2="225.1575" y2="433.0" stroke="#3a3a3a" stroke-width="1"/><line x1="265.9925" y1="430.5" x2="265.9925" y2="433.0" stroke="#3a3a3a" stroke-width="1"/><line x1="306.8275" y1="430.5" x2="306.8275" y2="433.0" stroke="#3a3a3a" stroke-width="1"/><path d="M41.40,267.20 44.12,266.28 46.84,266.46 49.57,268.80 52.29,273.42 55.01,276.43 57.73,273.00 60.46,260.88 63.18,248.35 65.90,246.30 68.62,261.53 71.35,284.40 74.07,301.20 76.79,301.96 79.51,291.77 82.23,279.50 84.96,272.21 87.68,269.78 90.40,270.30 93.12,272.17 95.85,275.12 98.57,279.20 101.29,284.14 104.01,288.37 106.74,290.00 109.46,287.81 112.18,283.31 114.90,278.70 117.63,275.83 120.35,275.21 123.07,277.00 125.79,281.03 128.51,285.81 131.24,289.50 133.96,290.74 136.68,290.00 139.40,288.20 142.13,286.08 144.85,283.59 147.57,280.50 150.29,276.96 153.02,274.69 155.74,275.80 158.46,281.42 161.18,288.80 163.91,294.20 166.63,295.03 169.35,293.19 172.07,291.70 174.79,292.75 177.52,295.19 180.24,297.00 182.96,296.76 185.68,295.24 188.41,293.80 191.13,293.50 193.85,294.28 196.57,295.80 199.30,297.27 202.02,296.08 204.74,289.20 207.46,275.57 210.18,262.18 212.91,258.00 215.63,268.76 218.35,287.13 221.07,302.50 223.80,307.17 226.52,305.03 229.24,302.90 231.96,305.90 234.69,312.50 237.41,319.50 240.13,324.20 242.85,325.97 245.57,324.70 248.30,320.66 251.02,315.69 253.74,312.00 256.46,311.22 259.19,312.57 261.91,314.70 264.63,316.54 267.35,318.25 270.08,320.30 272.80,322.83 275.52,324.71 278.24,324.50 280.97,320.90 283.69,313.29 286.41,301.20 289.13,285.49 291.85,272.33 294.58,269.20 297.30,280.60 300.02,299.16 302.74,314.50 305.47,318.76 308.19,314.06 310.91,305.00 313.63,295.42 316.36,286.02 319.08,276.70" fill="none" stroke="#0f68b4" stroke-width="1.1"/><circle cx="41.40" cy="267.20" r="2.5" fill="#0f68b4"/><circle cx="49.57" cy="268.80" r="2.5" fill="#0f68b4"/><circle cx="57.73" cy="273.00" r="2.5" fill="#0f68b4"/><circle cx="65.90" cy="246.30" r="2.5" fill="#0f68b4"/><circle cx="74.07" cy="301.20" r="2.5" fill="#0f68b4"/><circle cx="82.23" cy="279.50" r="2.5" fill="#0f68b4"/><circle cx="90.40" cy="270.30" r="2.5" fill="#0f68b4"/><circle cx="98.57" cy="279.20" r="2.5" fill="#0f68b4"/><circle cx="106.74" cy="290.00" r="2.5" fill="#0f68b4"/><circle cx="114.90" cy="278.70" r="2.5" fill="#0f68b4"/><circle cx="123.07" cy="277.00" r="2.5" fill="#0f68b4"/><circle cx="131.24" cy="289.50" r="2.5" fill="#0f68b4"/><circle cx="139.40" cy="288.20" r="2.5" fill="#0f68b4"/><circle cx="147.57" cy="280.50" r="2.5" fill="#0f68b4"/><circle cx="155.74" cy="275.80" r="2.5" fill="#0f68b4"/><circle cx="163.91" cy="294.20" r="2.5" fill="#0f68b4"/><circle cx="172.07" cy="291.70" r="2.5" fill="#0f68b4"/><circle cx="180.24" cy="297.00" r="2.5" fill="#0f68b4"/><circle cx="188.41" cy="293.80" r="2.5" fill="#0f68b4"/><circle cx="196.57" cy="295.80" r="2.5" fill="#0f68b4"/><circle cx="204.74" cy="289.20" r="2.5" fill="#0f68b4"/><circle cx="212.91" cy="258.00" r="2.5" fill="#0f68b4"/><circle cx="221.07" cy="302.50" r="2.5" fill="#0f68b4"/><circle cx="229.24" cy="302.90" r="2.5" fill="#0f68b4"/><circle cx="237.41" cy="319.50" r="2.5" fill="#0f68b4"/><circle cx="245.57" cy="324.70" r="2.5" fill="#0f68b4"/><circle cx="253.74" cy="312.00" r="2.5" fill="#0f68b4"/><circle cx="261.91" cy="314.70" r="2.5" fill="#0f68b4"/><circle cx="270.08" cy="320.30" r="2.5" fill="#0f68b4"/><circle cx="278.24" cy="324.50" r="2.5" fill="#0f68b4"/><circle cx="286.41" cy="301.20" r="2.5" fill="#0f68b4"/><circle cx="294.58" cy="269.20" r="2.5" fill="#0f68b4"/><circle cx="302.74" cy="314.50" r="2.5" fill="#0f68b4"/><circle cx="310.91" cy="305.00" r="2.5" fill="#0f68b4"/><circle cx="319.08" cy="276.70" r="2.5" fill="#0f68b4"/><path d="M41.40,347.00 44.12,360.28 46.84,371.22 49.57,377.50 52.29,377.87 55.01,375.47 57.73,374.50 60.46,377.73 63.18,382.07 65.90,383.00 68.62,377.81 71.35,371.15 74.07,369.50 76.79,376.77 79.51,386.66 82.23,390.30 84.96,382.20 87.68,370.36 90.40,366.20 93.12,376.95 95.85,393.28 98.57,401.70 101.29,393.18 104.01,376.46 106.74,364.70 109.46,367.00 112.18,376.14 114.90,380.80 117.63,373.51 120.35,362.04 123.07,358.00 125.79,369.16 128.51,387.96 131.24,403.00 133.96,406.06 136.68,401.58 139.40,397.20 142.13,398.51 144.85,403.01 147.57,406.20 150.29,404.69 153.02,399.63 155.74,393.30 158.46,387.50 161.18,382.15 163.91,376.70 166.63,371.51 169.35,370.57 172.07,378.80 174.79,398.10 177.52,418.42 180.24,426.70 182.96,414.83 185.68,394.41 188.41,382.00 191.13,388.93 193.85,405.67 196.57,417.50 199.30,413.85 202.02,400.82 204.74,388.70 207.46,385.10 210.18,386.99 212.91,388.70 215.63,386.38 218.35,383.61 221.07,385.80 223.80,395.96 226.52,407.44 229.24,411.20 231.96,401.39 234.69,385.07 237.41,372.50 240.13,370.77 242.85,374.27 245.57,374.20 248.30,365.17 251.02,355.44 253.74,356.70 256.46,375.61 259.19,398.83 261.91,408.00 264.63,391.36 267.35,363.55 270.08,345.80 272.80,353.19 275.52,376.11 278.24,398.80 280.97,408.98 283.69,408.33 286.41,402.00 289.13,394.93 291.85,391.16 294.58,394.50 297.30,406.40 300.02,418.83 302.74,421.40 305.47,407.48 308.19,385.53 310.91,367.80 313.63,363.56 316.36,370.29 319.08,382.50" fill="none" stroke="#d2000c" stroke-width="1.1"/><circle cx="41.40" cy="347.00" r="2.5" fill="#d2000c"/><circle cx="49.57" cy="377.50" r="2.5" fill="#d2000c"/><circle cx="57.73" cy="374.50" r="2.5" fill="#d2000c"/><circle cx="65.90" cy="383.00" r="2.5" fill="#d2000c"/><circle cx="74.07" cy="369.50" r="2.5" fill="#d2000c"/><circle cx="82.23" cy="390.30" r="2.5" fill="#d2000c"/><circle cx="90.40" cy="366.20" r="2.5" fill="#d2000c"/><circle cx="98.57" cy="401.70" r="2.5" fill="#d2000c"/><circle cx="106.74" cy="364.70" r="2.5" fill="#d2000c"/><circle cx="114.90" cy="380.80" r="2.5" fill="#d2000c"/><circle cx="123.07" cy="358.00" r="2.5" fill="#d2000c"/><circle cx="131.24" cy="403.00" r="2.5" fill="#d2000c"/><circle cx="139.40" cy="397.20" r="2.5" fill="#d2000c"/><circle cx="147.57" cy="406.20" r="2.5" fill="#d2000c"/><circle cx="155.74" cy="393.30" r="2.5" fill="#d2000c"/><circle cx="163.91" cy="376.70" r="2.5" fill="#d2000c"/><circle cx="172.07" cy="378.80" r="2.5" fill="#d2000c"/><circle cx="180.24" cy="426.70" r="2.5" fill="#d2000c"/><circle cx="188.41" cy="382.00" r="2.5" fill="#d2000c"/><circle cx="196.57" cy="417.50" r="2.5" fill="#d2000c"/><circle cx="204.74" cy="388.70" r="2.5" fill="#d2000c"/><circle cx="212.91" cy="388.70" r="2.5" fill="#d2000c"/><circle cx="221.07" cy="385.80" r="2.5" fill="#d2000c"/><circle cx="229.24" cy="411.20" r="2.5" fill="#d2000c"/><circle cx="237.41" cy="372.50" r="2.5" fill="#d2000c"/><circle cx="245.57" cy="374.20" r="2.5" fill="#d2000c"/><circle cx="253.74" cy="356.70" r="2.5" fill="#d2000c"/><circle cx="261.91" cy="408.00" r="2.5" fill="#d2000c"/><circle cx="270.08" cy="345.80" r="2.5" fill="#d2000c"/><circle cx="278.24" cy="398.80" r="2.5" fill="#d2000c"/><circle cx="286.41" cy="402.00" r="2.5" fill="#d2000c"/><circle cx="294.58" cy="394.50" r="2.5" fill="#d2000c"/><circle cx="302.74" cy="421.40" r="2.5" fill="#d2000c"/><circle cx="310.91" cy="367.80" r="2.5" fill="#d2000c"/><circle cx="319.08" cy="382.50" r="2.5" fill="#d2000c"/><line x1="41" y1="265.8" x2="253.8" y2="307.2" stroke="#0f68b4" stroke-width="1.2"/><line x1="253.7" y1="320.3" x2="319.5" y2="288.7" stroke="#0f68b4" stroke-width="1.2"/><line x1="41" y1="376.2" x2="253.8" y2="392.2" stroke="#d2000c" stroke-width="1.2"/><line x1="253.8" y1="378.3" x2="319.5" y2="395" stroke="#d2000c" stroke-width="1.2"/><polygon points="33.5,331.3 41.5,327.7 41.5,330.7 33.5,334.3" fill="#fff"/><line x1="33.3" y1="331.2" x2="41.7" y2="327.4" stroke="#3a3a3a" stroke-width="1"/><line x1="33.3" y1="334.6" x2="41.7" y2="330.8" stroke="#3a3a3a" stroke-width="1"/><polygon points="319.5,331.3 327.5,327.7 327.5,330.7 319.5,334.3" fill="#fff"/><line x1="319.3" y1="331.2" x2="327.7" y2="327.4" stroke="#3a3a3a" stroke-width="1"/><line x1="319.3" y1="334.6" x2="327.7" y2="330.8" stroke="#3a3a3a" stroke-width="1"/><line x1="37.7" y1="410.8" x2="61.2" y2="410.8" stroke="#0f68b4" stroke-width="1.2"/><circle cx="49.1" cy="410.8" r="2.6" fill="#0f68b4"/><line x1="37.7" y1="423.3" x2="61.2" y2="423.3" stroke="#d2000c" stroke-width="1.2"/><circle cx="49.1" cy="423.3" r="2.6" fill="#d2000c"/><text x="63.3" y="414.40000000000003" font-family="'Liberation Serif', serif" font-size="10" text-anchor="start" fill="#000" stroke="#000" stroke-width="0.18" textLength="94.3" lengthAdjust="spacingAndGlyphs">Breezeless environment</text><text x="63.3" y="426.90000000000003" font-family="'Liberation Serif', serif" font-size="10" text-anchor="start" fill="#000" stroke="#000" stroke-width="0.18" textLength="79" lengthAdjust="spacingAndGlyphs">Windy environment</text><text x="316.8" y="424" font-family="'Liberation Sans', sans-serif" font-size="13.5" text-anchor="middle" fill="#000" stroke="#000" stroke-width="0.18">c</text><rect x="372.5" y="229.9" width="286.0" height="200.29999999999998" fill="none" stroke="#3a3a3a" stroke-width="1"/><line x1="368.5" y1="229.5" x2="372.5" y2="229.5" stroke="#3a3a3a" stroke-width="1"/><text x="366" y="232.9" font-family="'Liberation Serif', serif" font-size="8.2" text-anchor="end" fill="#1a1a1a">2.4</text><line x1="368.5" y1="279.8" x2="372.5" y2="279.8" stroke="#3a3a3a" stroke-width="1"/><text x="366" y="283.2" font-family="'Liberation Serif', serif" font-size="8.2" text-anchor="end" fill="#1a1a1a">2.2</text><line x1="368.5" y1="330" x2="372.5" y2="330" stroke="#3a3a3a" stroke-width="1"/><text x="366" y="333.4" font-family="'Liberation Serif', serif" font-size="8.2" text-anchor="end" fill="#1a1a1a">2.0</text><line x1="368.5" y1="380" x2="372.5" y2="380" stroke="#3a3a3a" stroke-width="1"/><text x="366" y="383.4" font-family="'Liberation Serif', serif" font-size="8.2" text-anchor="end" fill="#1a1a1a">1.8</text><line x1="368.5" y1="430" x2="372.5" y2="430" stroke="#3a3a3a" stroke-width="1"/><text x="366" y="433.4" font-family="'Liberation Serif', serif" font-size="8.2" text-anchor="end" fill="#1a1a1a">1.6</text><line x1="370.5" y1="254.7" x2="372.5" y2="254.7" stroke="#3a3a3a" stroke-width="1"/><line x1="370.5" y1="305" x2="372.5" y2="305" stroke="#3a3a3a" stroke-width="1"/><line x1="370.5" y1="355" x2="372.5" y2="355" stroke="#3a3a3a" stroke-width="1"/><line x1="370.5" y1="405" x2="372.5" y2="405" stroke="#3a3a3a" stroke-width="1"/><line x1="376.4" y1="430.2" x2="376.4" y2="434.2" stroke="#3a3a3a" stroke-width="1"/><text x="376.4" y="443.2" font-family="'Liberation Serif', serif" font-size="8.2" text-anchor="middle" fill="#1a1a1a" textLength="15.6" lengthAdjust="spacingAndGlyphs">1980</text><line x1="417.29999999999995" y1="430.2" x2="417.29999999999995" y2="434.2" stroke="#3a3a3a" stroke-width="1"/><text x="417.29999999999995" y="443.2" font-family="'Liberation Serif', serif" font-size="8.2" text-anchor="middle" fill="#1a1a1a" textLength="15.6" lengthAdjust="spacingAndGlyphs">1985</text><line x1="458.2" y1="430.2" x2="458.2" y2="434.2" stroke="#3a3a3a" stroke-width="1"/><text x="458.2" y="443.2" font-family="'Liberation Serif', serif" font-size="8.2" text-anchor="middle" fill="#1a1a1a" textLength="15.6" lengthAdjust="spacingAndGlyphs">1990</text><line x1="499.09999999999997" y1="430.2" x2="499.09999999999997" y2="434.2" stroke="#3a3a3a" stroke-width="1"/><text x="499.09999999999997" y="443.2" font-family="'Liberation Serif', serif" font-size="8.2" text-anchor="middle" fill="#1a1a1a" textLength="15.6" lengthAdjust="spacingAndGlyphs">1995</text><line x1="540.0" y1="430.2" x2="540.0" y2="434.2" stroke="#3a3a3a" stroke-width="1"/><text x="540.0" y="443.2" font-family="'Liberation Serif', serif" font-size="8.2" text-anchor="middle" fill="#1a1a1a" textLength="15.6" lengthAdjust="spacingAndGlyphs">2000</text><line x1="580.9" y1="430.2" x2="580.9" y2="434.2" stroke="#3a3a3a" stroke-width="1"/><text x="580.9" y="443.2" font-family="'Liberation Serif', serif" font-size="8.2" text-anchor="middle" fill="#1a1a1a" textLength="15.6" lengthAdjust="spacingAndGlyphs">2005</text><line x1="621.8" y1="430.2" x2="621.8" y2="434.2" stroke="#3a3a3a" stroke-width="1"/><text x="621.8" y="443.2" font-family="'Liberation Serif', serif" font-size="8.2" text-anchor="middle" fill="#1a1a1a" textLength="15.6" lengthAdjust="spacingAndGlyphs">2010</text><line x1="396.84999999999997" y1="430.2" x2="396.84999999999997" y2="432.7" stroke="#3a3a3a" stroke-width="1"/><line x1="437.75" y1="430.2" x2="437.75" y2="432.7" stroke="#3a3a3a" stroke-width="1"/><line x1="478.65" y1="430.2" x2="478.65" y2="432.7" stroke="#3a3a3a" stroke-width="1"/><line x1="519.55" y1="430.2" x2="519.55" y2="432.7" stroke="#3a3a3a" stroke-width="1"/><line x1="560.4499999999999" y1="430.2" x2="560.4499999999999" y2="432.7" stroke="#3a3a3a" stroke-width="1"/><line x1="601.3499999999999" y1="430.2" x2="601.3499999999999" y2="432.7" stroke="#3a3a3a" stroke-width="1"/><line x1="642.25" y1="430.2" x2="642.25" y2="432.7" stroke="#3a3a3a" stroke-width="1"/><path d="M376.40,269.20 379.13,283.68 381.85,295.13 384.58,300.50 387.31,297.90 390.03,289.97 392.76,280.50 395.49,273.15 398.21,271.05 400.94,277.20 403.67,292.77 406.39,311.55 409.12,325.50 411.85,328.42 414.57,321.50 417.30,307.80 420.03,291.72 422.75,283.06 425.48,293.00 428.21,326.61 430.93,364.63 433.66,381.70 436.39,361.33 439.11,322.49 441.84,293.00 444.57,293.50 447.29,315.84 450.02,344.70 452.75,366.84 455.47,377.42 458.20,373.70 460.93,355.36 463.65,331.83 466.38,315.00 469.11,313.19 471.83,320.60 474.56,327.90 477.29,327.93 480.01,322.24 482.74,314.60 485.47,308.25 488.19,304.51 490.92,304.20 493.65,307.04 496.37,308.31 499.10,302.20 501.83,285.73 504.55,267.34 507.28,258.30 510.01,266.55 512.73,286.70 515.46,310.00 518.19,328.56 520.91,337.85 523.64,334.20 526.37,316.70 529.09,295.57 531.82,283.80 534.55,290.19 537.27,306.73 540.00,321.20 542.73,324.55 545.45,320.40 548.18,315.50 550.91,315.21 553.63,319.22 556.36,325.80 559.09,332.81 561.81,336.47 564.54,332.60 567.27,319.13 569.99,302.51 572.72,291.30 575.45,291.74 578.17,300.64 580.90,312.50 583.63,322.34 586.35,327.41 589.08,325.50 591.81,316.16 594.53,305.95 597.26,303.20 599.99,313.36 602.71,330.49 605.44,345.80 608.17,352.25 610.89,349.88 613.62,340.50 616.35,326.60 619.07,313.38 621.80,306.70 624.53,310.03 627.25,317.11 629.98,319.30 632.71,310.69 635.43,296.45 638.16,284.50 640.89,280.63 643.61,282.05 646.34,283.80 649.07,282.03 651.79,277.18 654.52,270.80" fill="none" stroke="#0f68b4" stroke-width="1.1"/><circle cx="376.40" cy="269.20" r="2.5" fill="#0f68b4"/><circle cx="384.58" cy="300.50" r="2.5" fill="#0f68b4"/><circle cx="392.76" cy="280.50" r="2.5" fill="#0f68b4"/><circle cx="400.94" cy="277.20" r="2.5" fill="#0f68b4"/><circle cx="409.12" cy="325.50" r="2.5" fill="#0f68b4"/><circle cx="417.30" cy="307.80" r="2.5" fill="#0f68b4"/><circle cx="425.48" cy="293.00" r="2.5" fill="#0f68b4"/><circle cx="433.66" cy="381.70" r="2.5" fill="#0f68b4"/><circle cx="441.84" cy="293.00" r="2.5" fill="#0f68b4"/><circle cx="450.02" cy="344.70" r="2.5" fill="#0f68b4"/><circle cx="458.20" cy="373.70" r="2.5" fill="#0f68b4"/><circle cx="466.38" cy="315.00" r="2.5" fill="#0f68b4"/><circle cx="474.56" cy="327.90" r="2.5" fill="#0f68b4"/><circle cx="482.74" cy="314.60" r="2.5" fill="#0f68b4"/><circle cx="490.92" cy="304.20" r="2.5" fill="#0f68b4"/><circle cx="499.10" cy="302.20" r="2.5" fill="#0f68b4"/><circle cx="507.28" cy="258.30" r="2.5" fill="#0f68b4"/><circle cx="515.46" cy="310.00" r="2.5" fill="#0f68b4"/><circle cx="523.64" cy="334.20" r="2.5" fill="#0f68b4"/><circle cx="531.82" cy="283.80" r="2.5" fill="#0f68b4"/><circle cx="540.00" cy="321.20" r="2.5" fill="#0f68b4"/><circle cx="548.18" cy="315.50" r="2.5" fill="#0f68b4"/><circle cx="556.36" cy="325.80" r="2.5" fill="#0f68b4"/><circle cx="564.54" cy="332.60" r="2.5" fill="#0f68b4"/><circle cx="572.72" cy="291.30" r="2.5" fill="#0f68b4"/><circle cx="580.90" cy="312.50" r="2.5" fill="#0f68b4"/><circle cx="589.08" cy="325.50" r="2.5" fill="#0f68b4"/><circle cx="597.26" cy="303.20" r="2.5" fill="#0f68b4"/><circle cx="605.44" cy="345.80" r="2.5" fill="#0f68b4"/><circle cx="613.62" cy="340.50" r="2.5" fill="#0f68b4"/><circle cx="621.80" cy="306.70" r="2.5" fill="#0f68b4"/><circle cx="629.98" cy="319.30" r="2.5" fill="#0f68b4"/><circle cx="638.16" cy="284.50" r="2.5" fill="#0f68b4"/><circle cx="646.34" cy="283.80" r="2.5" fill="#0f68b4"/><circle cx="654.52" cy="270.80" r="2.5" fill="#0f68b4"/><path d="M376.40,359.50 379.13,358.33 381.85,356.92 384.58,355.00 387.31,352.55 390.03,350.37 392.76,349.50 395.49,350.54 398.21,352.46 400.94,353.80 403.67,353.60 406.39,352.91 409.12,353.30 411.85,355.72 414.57,358.78 417.30,360.50 420.03,359.60 422.75,357.59 425.48,356.70 428.21,358.44 430.93,361.46 433.66,363.70 436.39,363.57 439.11,361.40 441.84,358.00 444.57,354.22 447.29,351.17 450.02,350.00 452.75,351.38 455.47,354.03 458.20,356.20 460.93,356.52 463.65,355.24 466.38,353.00 469.11,350.56 471.83,349.07 474.56,349.80 477.29,353.34 480.01,357.57 482.74,359.70 485.47,357.94 488.19,354.47 490.92,352.50 493.65,354.16 496.37,357.42 499.10,359.20 501.83,357.62 504.55,355.59 507.28,357.20 510.01,364.66 512.73,372.59 515.46,373.70 518.19,363.64 520.91,349.80 523.64,342.50 526.37,348.74 529.09,362.21 531.82,373.30 534.55,374.86 537.27,369.68 540.00,363.00 542.73,359.05 545.45,357.93 548.18,358.70 550.91,360.31 553.63,361.27 556.36,360.00 559.09,355.67 561.81,350.58 564.54,347.80 567.27,349.34 569.99,352.96 572.72,355.40 575.45,354.33 578.17,351.34 580.90,349.00 583.63,349.19 586.35,351.11 589.08,353.30 591.81,354.73 594.53,356.13 597.26,358.70 599.99,363.12 602.71,368.14 605.44,372.00 608.17,373.36 610.89,372.47 613.62,370.00 616.35,366.67 619.07,363.53 621.80,361.70 624.53,361.88 627.25,363.16 629.98,364.20 632.71,364.06 635.43,363.28 638.16,362.80 640.89,363.31 643.61,364.62 646.34,366.30 649.07,368.00 651.79,369.66 654.52,371.30" fill="none" stroke="#d2000c" stroke-width="1.1"/><circle cx="376.40" cy="359.50" r="2.5" fill="#d2000c"/><circle cx="384.58" cy="355.00" r="2.5" fill="#d2000c"/><circle cx="392.76" cy="349.50" r="2.5" fill="#d2000c"/><circle cx="400.94" cy="353.80" r="2.5" fill="#d2000c"/><circle cx="409.12" cy="353.30" r="2.5" fill="#d2000c"/><circle cx="417.30" cy="360.50" r="2.5" fill="#d2000c"/><circle cx="425.48" cy="356.70" r="2.5" fill="#d2000c"/><circle cx="433.66" cy="363.70" r="2.5" fill="#d2000c"/><circle cx="441.84" cy="358.00" r="2.5" fill="#d2000c"/><circle cx="450.02" cy="350.00" r="2.5" fill="#d2000c"/><circle cx="458.20" cy="356.20" r="2.5" fill="#d2000c"/><circle cx="466.38" cy="353.00" r="2.5" fill="#d2000c"/><circle cx="474.56" cy="349.80" r="2.5" fill="#d2000c"/><circle cx="482.74" cy="359.70" r="2.5" fill="#d2000c"/><circle cx="490.92" cy="352.50" r="2.5" fill="#d2000c"/><circle cx="499.10" cy="359.20" r="2.5" fill="#d2000c"/><circle cx="507.28" cy="357.20" r="2.5" fill="#d2000c"/><circle cx="515.46" cy="373.70" r="2.5" fill="#d2000c"/><circle cx="523.64" cy="342.50" r="2.5" fill="#d2000c"/><circle cx="531.82" cy="373.30" r="2.5" fill="#d2000c"/><circle cx="540.00" cy="363.00" r="2.5" fill="#d2000c"/><circle cx="548.18" cy="358.70" r="2.5" fill="#d2000c"/><circle cx="556.36" cy="360.00" r="2.5" fill="#d2000c"/><circle cx="564.54" cy="347.80" r="2.5" fill="#d2000c"/><circle cx="572.72" cy="355.40" r="2.5" fill="#d2000c"/><circle cx="580.90" cy="349.00" r="2.5" fill="#d2000c"/><circle cx="589.08" cy="353.30" r="2.5" fill="#d2000c"/><circle cx="597.26" cy="358.70" r="2.5" fill="#d2000c"/><circle cx="605.44" cy="372.00" r="2.5" fill="#d2000c"/><circle cx="613.62" cy="370.00" r="2.5" fill="#d2000c"/><circle cx="621.80" cy="361.70" r="2.5" fill="#d2000c"/><circle cx="629.98" cy="364.20" r="2.5" fill="#d2000c"/><circle cx="638.16" cy="362.80" r="2.5" fill="#d2000c"/><circle cx="646.34" cy="366.30" r="2.5" fill="#d2000c"/><circle cx="654.52" cy="371.30" r="2.5" fill="#d2000c"/><line x1="376.7" y1="304.7" x2="589.7" y2="318.8" stroke="#0f68b4" stroke-width="1.2"/><line x1="589.2" y1="337.5" x2="654.7" y2="280.8" stroke="#0f68b4" stroke-width="1.2"/><line x1="376.7" y1="356.3" x2="589.2" y2="357.2" stroke="#d2000c" stroke-width="1.2"/><line x1="589.2" y1="359.7" x2="654.2" y2="369.2" stroke="#d2000c" stroke-width="1.2"/><line x1="373.5" y1="409.5" x2="397.0" y2="409.5" stroke="#0f68b4" stroke-width="1.2"/><circle cx="384.9" cy="409.5" r="2.6" fill="#0f68b4"/><line x1="373.5" y1="421.8" x2="397.0" y2="421.8" stroke="#d2000c" stroke-width="1.2"/><circle cx="384.9" cy="421.8" r="2.6" fill="#d2000c"/><text x="399.5" y="413.1" font-family="'Liberation Serif', serif" font-size="10" text-anchor="start" fill="#000" stroke="#000" stroke-width="0.18" textLength="94.3" lengthAdjust="spacingAndGlyphs">Breezeless environment</text><text x="399.5" y="425.40000000000003" font-family="'Liberation Serif', serif" font-size="10" text-anchor="start" fill="#000" stroke="#000" stroke-width="0.18" textLength="79" lengthAdjust="spacingAndGlyphs">Windy environment</text><text x="651.5" y="423.3" font-family="'Liberation Sans', sans-serif" font-size="13.6" text-anchor="middle" fill="#000" stroke="#000" stroke-width="0.18">d</text><text x="652.8" y="241" font-family="'Liberation Serif', serif" font-size="10" text-anchor="end" fill="#000" stroke="#000" stroke-width="0.18" textLength="15.9" lengthAdjust="spacingAndGlyphs">DJF</text><text x="318.5" y="242" font-family="'Liberation Serif', serif" font-size="10" text-anchor="end" fill="#000" stroke="#000" stroke-width="0.18" textLength="19.6" lengthAdjust="spacingAndGlyphs">SON</text><text x="0" y="0" font-family="'Liberation Serif', serif" font-size="10.8" text-anchor="middle" fill="#111" stroke="#111" stroke-width="0.05" textLength="59.5" lengthAdjust="spacingAndGlyphs" transform="translate(7.6,220.3) rotate(-90)">Impact Factors</text><text x="0" y="0" font-family="'Liberation Serif', serif" font-size="10.8" text-anchor="middle" fill="#111" stroke="#111" stroke-width="0.05" textLength="59.5" lengthAdjust="spacingAndGlyphs" transform="translate(342.8,221.5) rotate(-90)">Impact Factors</text></svg></body></html>
